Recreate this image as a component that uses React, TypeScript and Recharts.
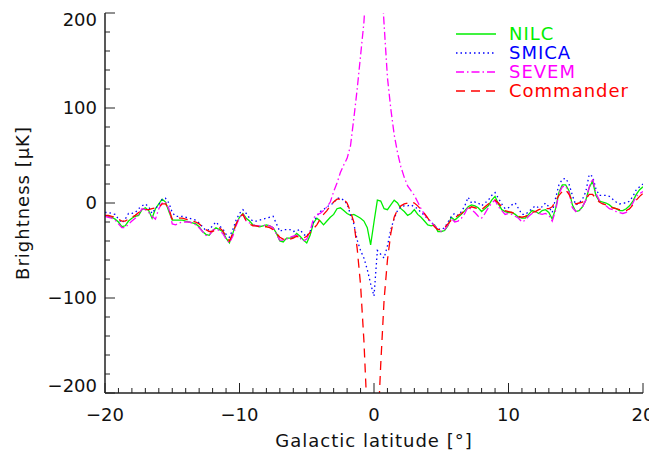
import React from 'react';
import { LineChart, Line, XAxis, YAxis, Legend } from 'recharts';

// galactic latitude samples [deg]
const LAT = [
  -20, -19.75, -19.5, -19.25, -19, -18.75, -18.5, -18.25,
  -18, -17.75, -17.5, -17.25, -17, -16.75, -16.5, -16.25,
  -16, -15.75, -15.5, -15.25, -15, -14.75, -14.5, -14.25,
  -14, -13.75, -13.5, -13.25, -13, -12.75, -12.5, -12.25,
  -12, -11.75, -11.5, -11.25, -11, -10.75, -10.5, -10.25,
  -10, -9.75, -9.5, -9.25, -9, -8.75, -8.5, -8.25,
  -8, -7.75, -7.5, -7.25, -7, -6.75, -6.5, -6.25,
  -6, -5.75, -5.5, -5.25, -5, -4.75, -4.5, -4.25,
  -4, -3.75, -3.5, -3.25, -3, -2.75, -2.5, -2.25,
  -2, -1.75, -1.5, -1.25, -1, -0.75, -0.5, -0.25,
  0, 0.25, 0.5, 0.75, 1, 1.25, 1.5, 1.75,
  2, 2.25, 2.5, 2.75, 3, 3.25, 3.5, 3.75,
  4, 4.25, 4.5, 4.75, 5, 5.25, 5.5, 5.75,
  6, 6.25, 6.5, 6.75, 7, 7.25, 7.5, 7.75,
  8, 8.25, 8.5, 8.75, 9, 9.25, 9.5, 9.75,
  10, 10.25, 10.5, 10.75, 11, 11.25, 11.5, 11.75,
  12, 12.25, 12.5, 12.75, 13, 13.25, 13.5, 13.75,
  14, 14.25, 14.5, 14.75, 15, 15.25, 15.5, 15.75,
  16, 16.25, 16.5, 16.75, 17, 17.25, 17.5, 17.75,
  18, 18.25, 18.5, 18.75, 19, 19.25, 19.5, 19.75,
  20,
];

// brightness [uK]
const NILC = [
  -13, -14, -15, -17, -20, -25, -24, -19,
  -16, -14, -13, -7, -5, -8, -16, -6,
  -1, 4, 1, -9, -18, -18, -18, -18,
  -19, -20, -21, -22, -25, -30, -33, -34,
  -29, -26, -28, -30, -37, -42, -32, -22,
  -15, -11, -16, -19, -23, -24, -25, -24,
  -23, -24, -26, -32, -40, -41, -37, -37,
  -36, -32, -35, -39, -42, -34, -21, -16,
  -19, -23, -19, -15, -12, -6, -5, -8,
  -11, -13, -12, -14, -16, -19, -26, -44,
  -20, 3, 2, -6, -7, -2, 3, 0,
  -6, -9, -13, -11, -7, -12, -15, -19,
  -23, -24, -23, -30, -30, -29, -24, -15,
  -18, -15, -12, -8, -4, -2, -3, -5,
  -9, -6, -3, 3, 7, -1, -7, -9,
  -10, -10, -12, -15, -16, -16, -12, -8,
  -9, -11, -8, -7, -10, -17, -6, 11,
  19, 19, 13, -2, -9, -8, -4, 3,
  16, 23, 8, 2, 1, 0, -2, -5,
  -6, -8, -8, -6, -3, 2, 9, 14,
  17,
];

const SMICA = [
  -10, -10, -11, -12, -17, -21, -17, -11,
  -11, -10, -6, -3, -1, -4, -11, -6,
  -2, 4, 5, 0, -10, -14, -14, -14,
  -15, -16, -17, -18, -21, -25, -29, -28,
  -24, -20, -24, -27, -33, -36, -28, -18,
  -11, -7, -11, -16, -19, -19, -18, -17,
  -16, -15, -14, -22, -30, -28, -28, -28,
  -30, -29, -28, -33, -35, -30, -20, -14,
  -9, -7, -4, -2, 0, 5, 5, 3,
  -1, -12, -22, -39, -50, -58, -70, -85,
  -98, -50, -54, -58, -45, -28, -16, -8,
  -4, -3, -3, -2, -4, -6, -10, -13,
  -17, -20, -24, -27, -28, -26, -20, -14,
  -11, -13, -9, -3, 6, 0, 1, 0,
  -3, 0, 3, 8, 11, 5, -1, -6,
  -5, -2, 0, -6, -12, -12, -9, -6,
  -3, -5, -4, 0, -4, -10, 5, 19,
  25, 26, 20, 8, -2, 0, 4, 12,
  30, 28, 15, 8, 8, 8, 7, 4,
  1, -1, 0, 0, 2, 7, 14, 17,
  20,
];

const SEVEM = [
  -14, -15, -16, -18, -22, -26, -26, -22,
  -19, -16, -12, -6, -7, -10, -14, -17,
  -6, 0, 1, -6, -22, -23, -21, -20,
  -20, -20, -21, -23, -26, -30, -34, -34,
  -29, -27, -29, -32, -38, -42, -35, -24,
  -15, -11, -19, -21, -23, -24, -24, -24,
  -23, -24, -26, -33, -39, -39, -38, -36,
  -35, -34, -37, -40, -38, -30, -16, -12,
  -11, -8, -4, 1, 12, 21, 32, 40,
  47, 60, 89, 120, 155, 190, 250, 320,
  380, 320, 250, 188, 132, 99, 72, 53,
  38, 27, 18, 13, 8, 1, -6, -12,
  -16, -20, -24, -28, -30, -28, -23, -16,
  -20, -19, -16, -11, -4, -7, -10, -14,
  -16, -11, -5, 0, 3, -4, -8, -12,
  -11, -12, -14, -16, -20, -18, -14, -11,
  -9, -11, -12, -11, -13, -19, -8, 10,
  17, 18, 11, -5, -9, -8, -4, 3,
  17, 26, 10, 3, 0, -3, -6, -7,
  -9, -10, -11, -10, -6, 0, 7, 10,
  12,
];

const COMMANDER = [
  -13, -13, -14, -15, -17, -19, -19, -17,
  -15, -13, -10, -8, -7, -7, -6, -5,
  -4, -1, -1, -6, -17, -17, -16, -16,
  -17, -18, -19, -20, -22, -25, -28, -30,
  -30, -28, -26, -29, -35, -40, -32, -22,
  -15, -12, -19, -22, -24, -24, -25, -25,
  -25, -26, -28, -32, -36, -38, -39, -38,
  -37, -35, -36, -37, -35, -31, -27, -23,
  -17, -12, -8, -3, 1, 4, 4, 4,
  0, -9, -20, -48, -86, -145, -225, -300,
  -330, -250, -170, -102, -60, -32, -15, -7,
  -3, -1, 0, 1, 0, -3, -7, -11,
  -16, -21, -25, -28, -28, -26, -22, -18,
  -16, -13, -11, -8, -6, -4, -5, -6,
  -7, -4, -1, 1, 3, 0, -4, -8,
  -9, -10, -11, -14, -15, -14, -12, -10,
  -9, -7, -6, -6, -6, -4, 2, 8,
  12, 14, 9, 2, -1, 0, 1, 4,
  9, 9, 5, 1, -1, -2, -4, -5,
  -6, -7, -8, -8, -6, -2, 3, 7,
  10,
];

const X_MAJOR = [-20, -10, 0, 10, 20];
const X_TICKS = [
  -20, -19, -18, -17, -16, -15, -14, -13, -12, -11,
  -10, -9, -8, -7, -6, -5, -4, -3, -2, -1,
  0, 1, 2, 3, 4, 5, 6, 7, 8, 9,
  10, 11, 12, 13, 14, 15, 16, 17, 18, 19, 20,
];
const Y_MAJOR = [-200, -100, 0, 100, 200];
const Y_TICKS = [
  -200, -180, -160, -140, -120, -100, -80, -60, -40, -20,
  0, 20, 40, 60, 80, 100, 120, 140, 160, 180, 200,
];

const SERIES = [
  { key: 'NILC', color: '#00ee00', dash: undefined, values: NILC },
  { key: 'SMICA', color: '#0000ff', dash: '1.5 3', values: SMICA },
  { key: 'SEVEM', color: '#ff00ff', dash: '8 3 1.5 3', values: SEVEM },
  { key: 'Commander', color: '#ff0000', dash: '9 6', values: COMMANDER },
];

const data = LAT.map((lat, i) => {
  const row: any = { lat };
  SERIES.forEach((s) => { row[s.key] = s.values[i]; });
  return row;
});

const FONT = '"DejaVu Sans", sans-serif';
const INK = '#111';
const FRAME = '#222';
const MAJOR_LEN = 10;
const MINOR_LEN = 5;

const fmt = (v: number) => (v < 0 ? '\u2212' + Math.abs(v) : String(v));

const BottomTick = (props: any) => {
  const { x, y, payload } = props;
  const major = X_MAJOR.includes(payload.value);
  return (
    <g>
      <line x1={x} x2={x} y1={y} y2={y - (major ? MAJOR_LEN : MINOR_LEN)} stroke={FRAME} strokeWidth={1} />
      {major && (
        <text x={x} y={y + 28} textAnchor="middle" fontFamily={FONT} fontSize={18} fill={INK}>
          {fmt(payload.value)}
        </text>
      )}
    </g>
  );
};

const TopTick = (props: any) => {
  const { x, y, payload } = props;
  const major = X_MAJOR.includes(payload.value);
  return <line x1={x} x2={x} y1={y} y2={y + (major ? MAJOR_LEN : MINOR_LEN)} stroke={FRAME} strokeWidth={1} />;
};

const LeftTick = (props: any) => {
  const { x, y, payload } = props;
  const major = Y_MAJOR.includes(payload.value);
  // end labels are nudged inward so they stay inside the frame height
  const nudge = payload.value === 200 ? 7 : payload.value === -200 ? -7 : 0;
  return (
    <g>
      <line x1={x} x2={x + (major ? MAJOR_LEN : MINOR_LEN)} y1={y} y2={y} stroke={FRAME} strokeWidth={1} />
      {major && (
        <text x={x - 8} y={y + nudge} dy="0.36em" textAnchor="end" fontFamily={FONT} fontSize={18} fill={INK}>
          {fmt(payload.value)}
        </text>
      )}
    </g>
  );
};

const RightTick = (props: any) => {
  const { x, y, payload } = props;
  const major = Y_MAJOR.includes(payload.value);
  return <line x1={x} x2={x - (major ? MAJOR_LEN : MINOR_LEN)} y1={y} y2={y} stroke={FRAME} strokeWidth={1} />;
};

const XTitle = ({ viewBox }: any) => (
  <text
    x={viewBox.x + viewBox.width / 2}
    y={viewBox.y + 54}
    textAnchor="middle"
    fontFamily={FONT}
    fontSize={18}
    letterSpacing={1}
    fill={INK}
  >
    Galactic latitude [°]
  </text>
);

const YTitle = ({ viewBox }: any) => {
  const cx = viewBox.x + 14;
  const cy = viewBox.y + viewBox.height / 2;
  return (
    <text
      x={cx}
      y={cy}
      transform={`rotate(-90 ${cx} ${cy})`}
      textAnchor="middle"
      dominantBaseline="central"
      fontFamily={FONT}
      fontSize={18}
      letterSpacing={1}
      fill={INK}
    >
      Brightness [μK]
    </text>
  );
};

const renderLegend = () => (
  <div style={{ fontFamily: FONT, fontSize: 18, lineHeight: '19px' }}>
    {SERIES.map((s) => (
      <div key={s.key} style={{ display: 'flex', alignItems: 'center', height: 19 }}>
        <svg width={40} height={8}>
          <line x1={0} x2={40} y1={4} y2={4} stroke={s.color} strokeWidth={1.3} strokeDasharray={s.dash} />
        </svg>
        <span style={{ marginLeft: 13, color: s.color, letterSpacing: 1 }}>{s.key}</span>
      </div>
    ))}
  </div>
);

export default function App() {
  return (
    <LineChart width={649} height={445} data={data} margin={{ top: 5, right: 14, bottom: 0, left: 0 }}>
      <XAxis
        xAxisId="bottom"
        dataKey="lat"
        type="number"
        domain={[-20, 20]}
        allowDataOverflow
        ticks={X_TICKS}
        interval={0}
        height={60}
        tickSize={0}
        tickMargin={0}
        tickLine={false}
        tick={<BottomTick />}
        axisLine={{ stroke: FRAME, strokeWidth: 1.5 }}
        label={<XTitle />}
      />
      <XAxis
        xAxisId="top"
        orientation="top"
        dataKey="lat"
        type="number"
        domain={[-20, 20]}
        allowDataOverflow
        ticks={X_TICKS}
        interval={0}
        height={0}
        tickSize={0}
        tickMargin={0}
        tickLine={false}
        tick={<TopTick />}
        axisLine={{ stroke: FRAME, strokeWidth: 1.5 }}
      />
      <YAxis
        yAxisId="left"
        type="number"
        domain={[-200, 200]}
        allowDataOverflow
        ticks={Y_TICKS}
        interval={0}
        width={97}
        tickSize={0}
        tickMargin={0}
        tickLine={false}
        tick={<LeftTick />}
        axisLine={{ stroke: FRAME, strokeWidth: 1.5 }}
        label={<YTitle />}
      />
      <YAxis
        yAxisId="right"
        orientation="right"
        type="number"
        domain={[-200, 200]}
        allowDataOverflow
        ticks={Y_TICKS}
        interval={0}
        width={0}
        tickSize={0}
        tickMargin={0}
        tickLine={false}
        tick={<RightTick />}
        axisLine={{ stroke: FRAME, strokeWidth: 1.5 }}
      />
      <Legend
        layout="vertical"
        align="center"
        verticalAlign="middle"
        content={renderLegend}
        wrapperStyle={{ top: 16, left: 448, width: 'auto', height: 'auto' }}
      />
      {SERIES.map((s) => (
        <Line
          key={s.key}
          xAxisId="bottom"
          yAxisId="left"
          type="linear"
          dataKey={s.key}
          stroke={s.color}
          strokeWidth={1.3}
          strokeDasharray={s.dash}
          dot={false}
          activeDot={false}
          isAnimationActive={false}
        />
      ))}
    </LineChart>
  );
}
